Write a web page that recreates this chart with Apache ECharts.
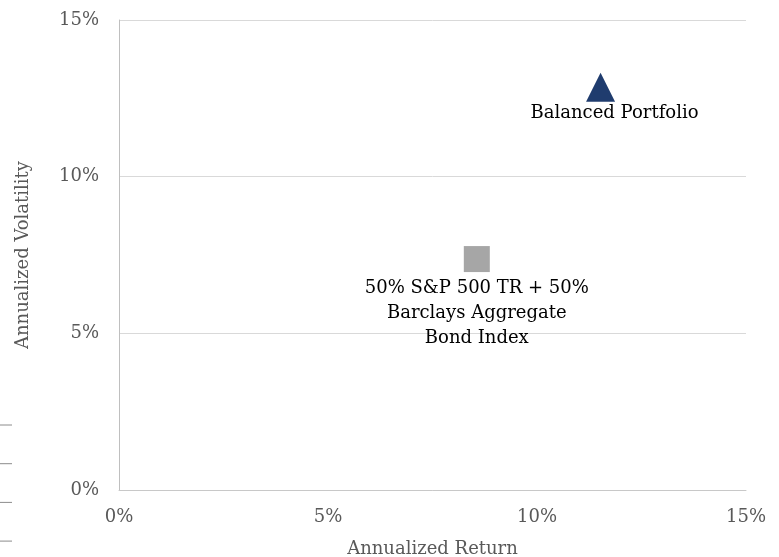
<!DOCTYPE html>
<html>
<head>
<meta charset="utf-8">
<script src="https://cdn.jsdelivr.net/npm/echarts@6/dist/echarts.min.js"></script>
<style>
html, body { margin: 0; padding: 0; background: #fff; }
#main { width: 779px; height: 557px; }
</style>
</head>
<body>
<div id="main"></div>
<script>
var myChart = echarts.init(document.getElementById('main'), null, {renderer: 'canvas'});

// values in percent
var pointNames = ['50% S&P 500 TR + 50%\nBarclays Aggregate\nBond Index', 'Balanced Portfolio'];
var returnVals = [8.56, 11.52];
var volVals = [7.37, 12.85];

var font = '"DejaVu Serif", serif';

option = {
    animation: false,
    grid: {
        left: 119,
        right: 33,
        top: 20,
        bottom: 67,
        outerBoundsMode: 'none'
    },
    xAxis: {
        type: 'value',
        min: 0,
        max: 15,
        interval: 5,
        name: 'Annualized Return',
        nameLocation: 'middle',
        nameGap: 50,
        nameTextStyle: {color: '#595959', fontSize: 18, fontFamily: font},
        axisLine: {show: true, lineStyle: {color: '#c8c8c8', width: 1}},
        axisTick: {show: false},
        splitLine: {show: false},
        axisLabel: {
            color: '#595959', fontSize: 18, fontFamily: font, margin: 18,
            formatter: function (v) { return v + '%'; }
        }
    },
    yAxis: {
        type: 'value',
        min: 0,
        max: 15,
        interval: 5,
        name: 'Annualized Volatility',
        nameLocation: 'middle',
        nameGap: 87,
        nameTextStyle: {color: '#595959', fontSize: 18, fontFamily: font},
        axisLine: {show: true, lineStyle: {color: '#bfbfbf', width: 1}},
        axisTick: {show: false},
        splitLine: {show: true, lineStyle: {color: '#d9d9d9', width: 1}},
        axisLabel: {
            color: '#595959', fontSize: 18, fontFamily: font, margin: 20,
            formatter: function (v) { return v + '%'; }
        }
    },
    graphic: [0, 1, 2, 3].map(function (i) {
        return {
            type: 'line',
            shape: {x1: 0, y1: 425 + i * 38.7, x2: 12, y2: 425 + i * 38.7},
            style: {stroke: '#8c8c8c', lineWidth: 1}
        };
    }),
    series: [
        {
            name: 'Blend',
            type: 'scatter',
            symbol: 'rect',
            symbolSize: 26,
            itemStyle: {color: '#a6a6a6', opacity: 1},
            data: [[returnVals[0], volVals[0]]],
            label: {
                show: true,
                position: 'bottom',
                distance: 4,
                color: '#000',
                fontSize: 18,
                lineHeight: 25,
                fontFamily: font,
                formatter: function () { return pointNames[0]; }
            }
        },
        {
            name: 'Balanced',
            type: 'scatter',
            symbol: 'triangle',
            symbolSize: 29,
            itemStyle: {color: '#1f3c6e', opacity: 1},
            data: [[returnVals[1], volVals[1]]],
            label: {
                show: true,
                position: 'bottom',
                distance: 2,
                offset: [14, 0],
                color: '#000',
                fontSize: 18,
                fontFamily: font,
                formatter: function () { return pointNames[1]; }
            }
        }
    ]
};

myChart.setOption(option);
</script>
</body>
</html>
